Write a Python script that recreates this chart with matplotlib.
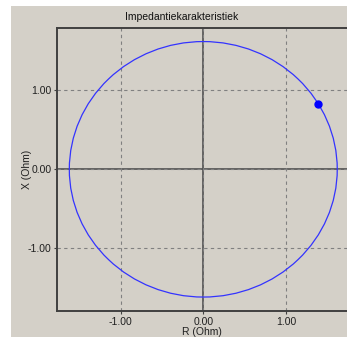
import matplotlib
matplotlib.use("Agg")
import matplotlib.pyplot as plt
from matplotlib.patches import Circle, Rectangle

# data
circle_radius = 1.62
point_r = [1.39]
point_x = [0.83]
ticks = [-1.0, 0.0, 1.0]
tick_labels = ["-1.00", "0.00", "1.00"]

W, H = 347, 337
bg = "#d4d0c8"
plt.rcParams["font.family"] = ["Liberation Sans", "DejaVu Sans"]

fig = plt.figure(figsize=(W / 100, H / 100), dpi=100)
fig.patch.set_facecolor("white")
# grey panel behind everything
fig.patches.append(Rectangle((11 / W, 0), 1 - 11 / W, 1 - 6 / H,
                             transform=fig.transFigure, facecolor=bg,
                             edgecolor="none", zorder=-5))

ax = fig.add_axes([57 / W, (H - 311) / H, (W - 57) / W, (311 - 28) / H])
ax.set_facecolor(bg)
ax.set_xlim(-1.769, 1.738)
ax.set_ylim(-1.797, 1.792)

ax.set_xticks(ticks)
ax.set_xticklabels(tick_labels)
ax.set_yticks(ticks)
ax.set_yticklabels(tick_labels)
ax.tick_params(length=2, width=0.8, color="#404040", labelsize=7.5, pad=2,
               labelcolor="#202020")
ax.grid(True, linestyle=(0, (3, 3)), color="#808080", linewidth=0.8)
ax.axhline(0, color="#505050", linewidth=1.2, zorder=1)
ax.axvline(0, color="#505050", linewidth=1.2, zorder=1)

for side in ["left", "bottom", "top"]:
    ax.spines[side].set_color("#404040")
    ax.spines[side].set_linewidth(1.4)
ax.spines["right"].set_visible(False)

ax.add_patch(Circle((0, 0), circle_radius, fill=False, edgecolor="#3333ff",
                    linewidth=0.9, zorder=3))
ax.plot(point_r, point_x, "o", color="#0000ff", markersize=5, zorder=4)

ax.set_xlabel("R (Ohm)", fontsize=7.5, labelpad=0, color="#202020")
ax.set_ylabel("X (Ohm)", fontsize=7.5, labelpad=-3, color="#202020")
fig.text(182 / W, 1 - 17 / H, "Impedantiekarakteristiek", fontsize=7.5,
         ha="center", va="center", color="#101010")

fig.savefig("out.png", dpi=100, facecolor="white")
